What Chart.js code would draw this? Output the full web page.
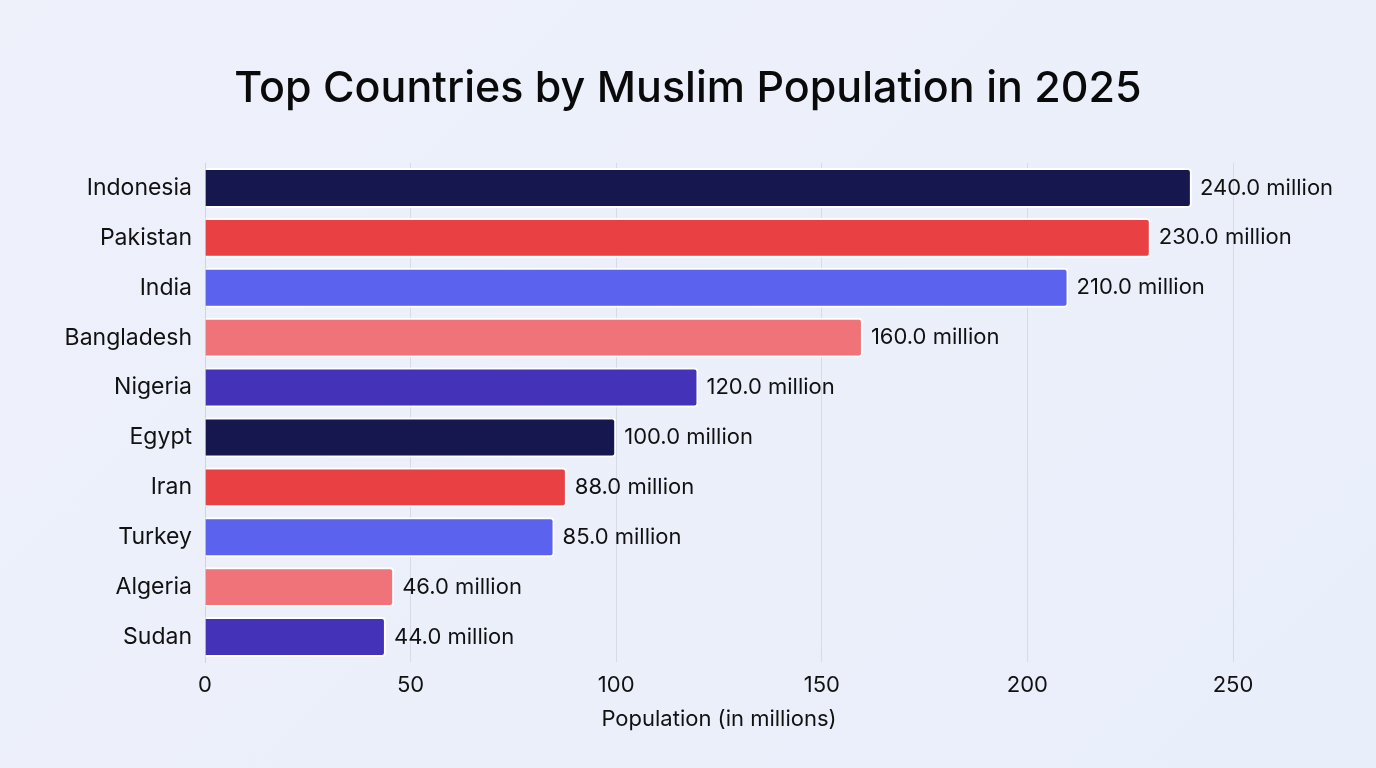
<!DOCTYPE html>
<html>
<head>
<meta charset="utf-8">
<script src="https://cdn.jsdelivr.net/npm/chart.js@4.4.1/dist/chart.umd.min.js"></script>
<style>
  html, body { margin: 0; padding: 0; }
  body {
    width: 1376px; height: 768px; overflow: hidden;
    background: linear-gradient(135deg, #eef1fa 0%, #e9eefb 100%);
  }
  #wrap { position: relative; width: 1376px; height: 768px; }
</style>
</head>
<body>
<div id="wrap"><canvas id="chart"></canvas></div>
<script>
// Datos del gráfico
const countries = ['Indonesia', 'Pakistan', 'India', 'Bangladesh', 'Nigeria', 'Egypt', 'Iran', 'Turkey', 'Algeria', 'Sudan'];
const population = [240, 230, 210, 160, 120, 100, 88, 85, 46, 44];
const barColors = ['#17174f', '#e84043', '#5b63ee', '#f07379', '#4432b8', '#17174f', '#e84043', '#5b63ee', '#f07379', '#4432b8'];
const xTicks = [0, 50, 100, 150, 200, 250];
const chartTitle = 'Top Countries by Muslim Population in 2025';

const FONT = 'Inter, "Noto Sans", sans-serif';

// Título centrado en todo el lienzo
const canvasTitle = {
  id: 'canvasTitle',
  afterDraw(chart) {
    const ctx = chart.ctx;
    ctx.save();
    ctx.font = '500 43px ' + FONT;
    ctx.fillStyle = '#0a0a0a';
    ctx.textAlign = 'center';
    ctx.textBaseline = 'middle';
    ctx.fillText(chartTitle, chart.width / 2, 89);
    ctx.restore();
  }
};

// Etiquetas de valor al final de cada barra
const valueLabels = {
  id: 'valueLabels',
  afterDatasetsDraw(chart) {
    const ctx = chart.ctx;
    const meta = chart.getDatasetMeta(0);
    ctx.save();
    ctx.font = '400 22px ' + FONT;
    ctx.fillStyle = '#111111';
    ctx.textAlign = 'left';
    ctx.textBaseline = 'middle';
    meta.data.forEach((bar, i) => {
      ctx.fillText(population[i].toFixed(1) + ' million', bar.x + 8, bar.y);
    });
    ctx.restore();
  }
};

new Chart(document.getElementById('chart'), {
  type: 'bar',
  data: {
    labels: countries,
    datasets: [{
      data: population,
      backgroundColor: barColors,
      borderColor: '#ffffff',
      borderWidth: 2,
      borderRadius: 4,
      barPercentage: 0.8,
      categoryPercentage: 1
    }]
  },
  options: {
    indexAxis: 'y',
    responsive: true,
    maintainAspectRatio: false,
    animation: false,
    layout: { padding: { top: 163, right: 143, bottom: 35, left: 20 } },
    scales: {
      x: {
        min: 0,
        max: 250,
        afterBuildTicks: (scale) => { scale.ticks = xTicks.map(v => ({ value: v })); },
        afterFit: (scale) => { scale.height = 71; },
        grid: { color: '#d6dbe6', lineWidth: 1, drawTicks: false },
        border: { display: false },
        ticks: { color: '#111111', font: { family: FONT, size: 22 }, padding: 10 },
        title: {
          display: true,
          text: 'Population (in millions)',
          color: '#111111',
          font: { family: FONT, size: 22 },
          padding: { top: 0, bottom: 0 }
        }
      },
      y: {
        grid: { display: false, drawTicks: false },
        border: { display: true, color: '#cfd4de', width: 1 },
        ticks: { color: '#111111', font: { family: FONT, size: 23 }, padding: 13 },
        afterFit: (scale) => { scale.width = 185; }
      }
    },
    plugins: {
      legend: { display: false },
      tooltip: { enabled: false },
      title: { display: false }
    }
  },
  plugins: [valueLabels, canvasTitle]
});
</script>
</body>
</html>
